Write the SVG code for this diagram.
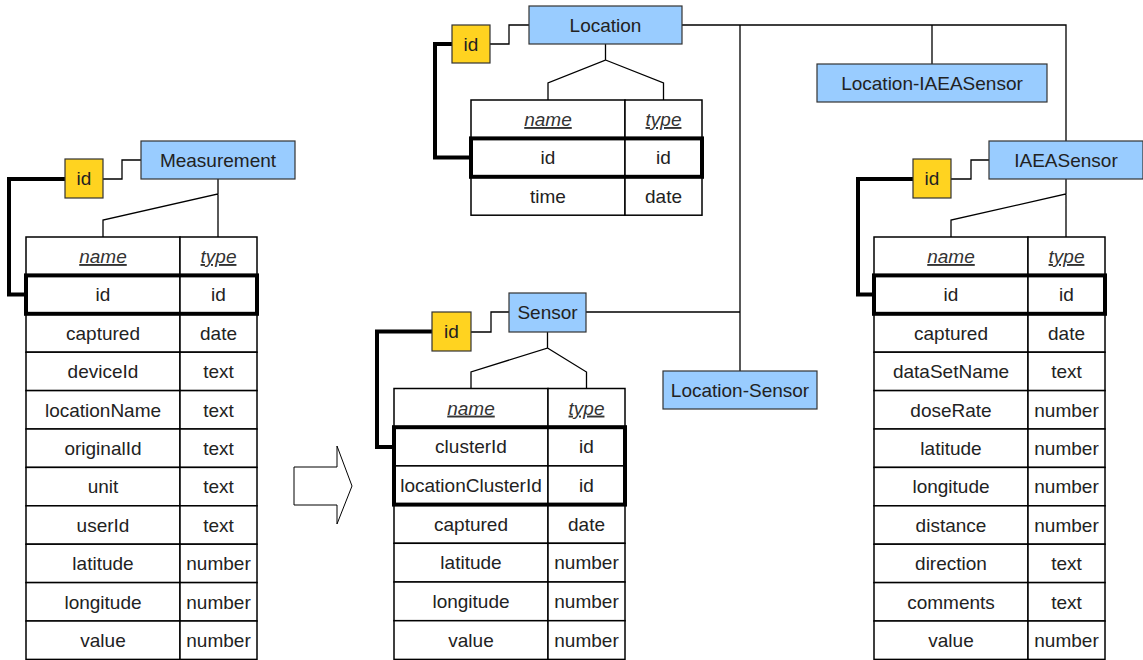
<svg xmlns="http://www.w3.org/2000/svg" width="1143" height="660" viewBox="0 0 1143 660">
  <style>
    .cell{fill:#fff;stroke:#000;stroke-width:1.5}
    .t{font-family:"Liberation Sans",Arial,sans-serif;font-size:19px;fill:#222;text-anchor:middle}
    .hd{font-style:italic;text-decoration:underline;fill:#333}
    .key{fill:none;stroke:#000;stroke-width:4}
    .ent{fill:#99ccff;stroke:#333;stroke-width:1.2}
    .idb{fill:#ffd320;stroke:#333;stroke-width:1.2}
    .ln{fill:none;stroke:#000;stroke-width:1.3}
    .thick{fill:none;stroke:#000;stroke-width:4;stroke-linejoin:miter}
  </style>
  <rect width="1143" height="660" fill="#fff"/>

  <!-- connectors -->
  <g id="connectors">
    <!-- Measurement -->
    <path class="ln" d="M103,179 H122 V160 H141"/>
    <path class="thick" d="M65,179 H9 V294.6 H26"/>
    <path class="ln" d="M218,179 V194 L103,220 V237 M218,194 V237"/>
    <!-- Location -->
    <path class="ln" d="M490,44 H509 V25 H529"/>
    <path class="thick" d="M452,44 H435 V157.6 H471"/>
    <path class="ln" d="M605.5,44 V60 L548,83 V100 M605.5,60 L663.5,83 V100"/>
    <!-- Sensor -->
    <path class="ln" d="M471,332 H491 V312 H509"/>
    <path class="thick" d="M432,331.5 H377 V447 H394"/>
    <path class="ln" d="M547.5,332 V348 L471,372 V388.5 M547.5,348 L586.5,372 V388.5"/>
    <!-- IAEASensor -->
    <path class="ln" d="M951,179 H971 V160 H989"/>
    <path class="thick" d="M913,179 H858 V294.6 H874"/>
    <path class="ln" d="M1066,179 V194 L951,220 V237 M1066,194 V237"/>
    <!-- relations -->
    <path class="ln" d="M682,25 H1066 V141 M740,25 V371 M932,25 V64 M586,312 H740"/>
  </g>

  <!-- transformation arrow -->
  <g id="arrow">
    <polygon points="294,467 337,467 337,446 352,486 337,524 337,505 294,505" fill="#fff" stroke="#000" stroke-width="1"/>
  </g>

  <!-- Measurement -->
  <g id="measurement">
    <rect class="ent" x="141" y="141" width="154" height="38"/>
    <text class="t" x="218" y="166.8">Measurement</text>
    <rect class="idb" x="65" y="159" width="38" height="39"/>
    <text class="t" x="84" y="185.3">id</text>
    <g>
      <rect class="cell" x="26" y="237" width="154" height="38.4"/><rect class="cell" x="180" y="237" width="77" height="38.4"/>
      <rect class="cell" x="26" y="275.4" width="154" height="38.4"/><rect class="cell" x="180" y="275.4" width="77" height="38.4"/>
      <rect class="cell" x="26" y="313.8" width="154" height="38.4"/><rect class="cell" x="180" y="313.8" width="77" height="38.4"/>
      <rect class="cell" x="26" y="352.2" width="154" height="38.4"/><rect class="cell" x="180" y="352.2" width="77" height="38.4"/>
      <rect class="cell" x="26" y="390.6" width="154" height="38.4"/><rect class="cell" x="180" y="390.6" width="77" height="38.4"/>
      <rect class="cell" x="26" y="429" width="154" height="38.4"/><rect class="cell" x="180" y="429" width="77" height="38.4"/>
      <rect class="cell" x="26" y="467.4" width="154" height="38.4"/><rect class="cell" x="180" y="467.4" width="77" height="38.4"/>
      <rect class="cell" x="26" y="505.8" width="154" height="38.4"/><rect class="cell" x="180" y="505.8" width="77" height="38.4"/>
      <rect class="cell" x="26" y="544.2" width="154" height="38.4"/><rect class="cell" x="180" y="544.2" width="77" height="38.4"/>
      <rect class="cell" x="26" y="582.6" width="154" height="38.4"/><rect class="cell" x="180" y="582.6" width="77" height="38.4"/>
      <rect class="cell" x="26" y="621" width="154" height="38.4"/><rect class="cell" x="180" y="621" width="77" height="38.4"/>
    </g>
    <rect class="key" x="26" y="275.4" width="231" height="38.4"/>
    <text class="t hd" x="103" y="263">name</text><text class="t hd" x="218.5" y="263">type</text>
    <text class="t" x="103" y="301.4">id</text><text class="t" x="218.5" y="301.4">id</text>
    <text class="t" x="103" y="339.8">captured</text><text class="t" x="218.5" y="339.8">date</text>
    <text class="t" x="103" y="378.2">deviceId</text><text class="t" x="218.5" y="378.2">text</text>
    <text class="t" x="103" y="416.6">locationName</text><text class="t" x="218.5" y="416.6">text</text>
    <text class="t" x="103" y="455">originalId</text><text class="t" x="218.5" y="455">text</text>
    <text class="t" x="103" y="493.4">unit</text><text class="t" x="218.5" y="493.4">text</text>
    <text class="t" x="103" y="531.8">userId</text><text class="t" x="218.5" y="531.8">text</text>
    <text class="t" x="103" y="570.2">latitude</text><text class="t" x="218.5" y="570.2">number</text>
    <text class="t" x="103" y="608.6">longitude</text><text class="t" x="218.5" y="608.6">number</text>
    <text class="t" x="103" y="647">value</text><text class="t" x="218.5" y="647">number</text>
  </g>

  <!-- Location -->
  <g id="location">
    <rect class="ent" x="529" y="6" width="153" height="38"/>
    <text class="t" x="605.5" y="31.8">Location</text>
    <rect class="idb" x="452" y="25" width="38" height="38"/>
    <text class="t" x="471" y="50.8">id</text>
    <rect class="cell" x="471" y="100" width="154" height="38.4"/><rect class="cell" x="625" y="100" width="77" height="38.4"/>
    <rect class="cell" x="471" y="138.4" width="154" height="38.4"/><rect class="cell" x="625" y="138.4" width="77" height="38.4"/>
    <rect class="cell" x="471" y="176.8" width="154" height="38.4"/><rect class="cell" x="625" y="176.8" width="77" height="38.4"/>
    <rect class="key" x="471" y="138.4" width="231" height="38.4"/>
    <text class="t hd" x="548" y="126">name</text><text class="t hd" x="663.5" y="126">type</text>
    <text class="t" x="548" y="164.4">id</text><text class="t" x="663.5" y="164.4">id</text>
    <text class="t" x="548" y="202.8">time</text><text class="t" x="663.5" y="202.8">date</text>
  </g>

  <!-- Location-IAEASensor -->
  <g id="location-iaeasensor">
    <rect class="ent" x="817" y="64" width="230" height="38"/>
    <text class="t" x="932" y="89.8">Location-IAEASensor</text>
  </g>

  <!-- Location-Sensor -->
  <g id="location-sensor">
    <rect class="ent" x="663" y="371" width="154" height="38"/>
    <text class="t" x="740" y="396.8">Location-Sensor</text>
  </g>

  <!-- Sensor -->
  <g id="sensor">
    <rect class="ent" x="509" y="293" width="77" height="39"/>
    <text class="t" x="547.5" y="319.3">Sensor</text>
    <rect class="idb" x="432" y="312" width="39" height="39"/>
    <text class="t" x="451.5" y="338.3">id</text>
    <rect class="cell" x="394" y="388.5" width="154" height="38.7"/><rect class="cell" x="548" y="388.5" width="77" height="38.7"/>
    <rect class="cell" x="394" y="427.2" width="154" height="38.7"/><rect class="cell" x="548" y="427.2" width="77" height="38.7"/>
    <rect class="cell" x="394" y="465.9" width="154" height="38.7"/><rect class="cell" x="548" y="465.9" width="77" height="38.7"/>
    <rect class="cell" x="394" y="504.6" width="154" height="38.7"/><rect class="cell" x="548" y="504.6" width="77" height="38.7"/>
    <rect class="cell" x="394" y="543.3" width="154" height="38.7"/><rect class="cell" x="548" y="543.3" width="77" height="38.7"/>
    <rect class="cell" x="394" y="582" width="154" height="38.7"/><rect class="cell" x="548" y="582" width="77" height="38.7"/>
    <rect class="cell" x="394" y="620.7" width="154" height="38.7"/><rect class="cell" x="548" y="620.7" width="77" height="38.7"/>
    <rect class="key" x="394" y="427.2" width="231" height="77.4"/>
    <text class="t hd" x="471" y="414.6">name</text><text class="t hd" x="586.5" y="414.6">type</text>
    <text class="t" x="471" y="453.3">clusterId</text><text class="t" x="586.5" y="453.3">id</text>
    <text class="t" x="471" y="492">locationClusterId</text><text class="t" x="586.5" y="492">id</text>
    <text class="t" x="471" y="530.7">captured</text><text class="t" x="586.5" y="530.7">date</text>
    <text class="t" x="471" y="569.4">latitude</text><text class="t" x="586.5" y="569.4">number</text>
    <text class="t" x="471" y="608.1">longitude</text><text class="t" x="586.5" y="608.1">number</text>
    <text class="t" x="471" y="646.8">value</text><text class="t" x="586.5" y="646.8">number</text>
  </g>

  <!-- IAEASensor -->
  <g id="iaeasensor">
    <rect class="ent" x="989" y="141" width="154" height="38"/>
    <text class="t" x="1066" y="166.8">IAEASensor</text>
    <rect class="idb" x="913" y="159" width="38" height="39"/>
    <text class="t" x="932" y="185.3">id</text>
    <g>
      <rect class="cell" x="874" y="237" width="154" height="38.4"/><rect class="cell" x="1028" y="237" width="77" height="38.4"/>
      <rect class="cell" x="874" y="275.4" width="154" height="38.4"/><rect class="cell" x="1028" y="275.4" width="77" height="38.4"/>
      <rect class="cell" x="874" y="313.8" width="154" height="38.4"/><rect class="cell" x="1028" y="313.8" width="77" height="38.4"/>
      <rect class="cell" x="874" y="352.2" width="154" height="38.4"/><rect class="cell" x="1028" y="352.2" width="77" height="38.4"/>
      <rect class="cell" x="874" y="390.6" width="154" height="38.4"/><rect class="cell" x="1028" y="390.6" width="77" height="38.4"/>
      <rect class="cell" x="874" y="429" width="154" height="38.4"/><rect class="cell" x="1028" y="429" width="77" height="38.4"/>
      <rect class="cell" x="874" y="467.4" width="154" height="38.4"/><rect class="cell" x="1028" y="467.4" width="77" height="38.4"/>
      <rect class="cell" x="874" y="505.8" width="154" height="38.4"/><rect class="cell" x="1028" y="505.8" width="77" height="38.4"/>
      <rect class="cell" x="874" y="544.2" width="154" height="38.4"/><rect class="cell" x="1028" y="544.2" width="77" height="38.4"/>
      <rect class="cell" x="874" y="582.6" width="154" height="38.4"/><rect class="cell" x="1028" y="582.6" width="77" height="38.4"/>
      <rect class="cell" x="874" y="621" width="154" height="38.4"/><rect class="cell" x="1028" y="621" width="77" height="38.4"/>
    </g>
    <rect class="key" x="874" y="275.4" width="231" height="38.4"/>
    <text class="t hd" x="951" y="263">name</text><text class="t hd" x="1066.5" y="263">type</text>
    <text class="t" x="951" y="301.4">id</text><text class="t" x="1066.5" y="301.4">id</text>
    <text class="t" x="951" y="339.8">captured</text><text class="t" x="1066.5" y="339.8">date</text>
    <text class="t" x="951" y="378.2">dataSetName</text><text class="t" x="1066.5" y="378.2">text</text>
    <text class="t" x="951" y="416.6">doseRate</text><text class="t" x="1066.5" y="416.6">number</text>
    <text class="t" x="951" y="455">latitude</text><text class="t" x="1066.5" y="455">number</text>
    <text class="t" x="951" y="493.4">longitude</text><text class="t" x="1066.5" y="493.4">number</text>
    <text class="t" x="951" y="531.8">distance</text><text class="t" x="1066.5" y="531.8">number</text>
    <text class="t" x="951" y="570.2">direction</text><text class="t" x="1066.5" y="570.2">text</text>
    <text class="t" x="951" y="608.6">comments</text><text class="t" x="1066.5" y="608.6">text</text>
    <text class="t" x="951" y="647">value</text><text class="t" x="1066.5" y="647">number</text>
  </g>
</svg>
